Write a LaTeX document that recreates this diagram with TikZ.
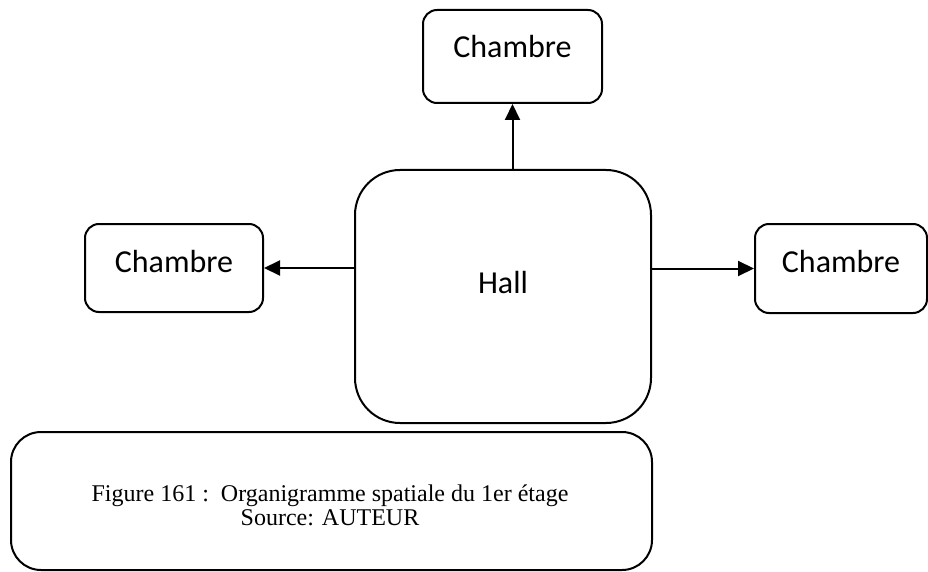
\documentclass[tikz,border=0pt]{standalone}
\usepackage{fontspec}
\setmainfont{Liberation Serif}
\newfontfamily\boitefont{Carlito}
\usetikzlibrary{arrows.meta}

\begin{document}
\begin{tikzpicture}[x=1pt, y=-1pt, line width=2pt,
      boite/.style={draw, rounded corners=14pt, inner sep=0pt, text height=22pt,
        font=\boitefont\fontsize{32}{38}\selectfont},
      fleche/.style={-{Triangle[length=16pt,width=15pt]}}]
      \useasboundingbox (0,0) rectangle (928,572);

      % Hall au centre
      \node[boite, rounded corners=45pt, text depth=29pt, minimum width=296pt,
        minimum height=253pt] (hall) at (503,296.5) {Hall};

      % Les trois chambres
      \node[boite, text depth=19pt, minimum width=179pt, minimum height=93pt] (chHaut) at (512.5,56.5) {Chambre};
      \node[boite, text depth=14pt, minimum width=178pt, minimum height=88pt] (chGauche) at (174,268) {Chambre};
      \node[boite, text depth=14pt, minimum width=172pt, minimum height=89pt] (chDroite) at (841,268.5) {Chambre};

      % Liaisons depuis le hall
      \draw[fleche] (chHaut.south |- hall.north) -- (chHaut.south);
      \draw[fleche] (hall.west |- chGauche.east) -- (chGauche.east);
      \draw[fleche] (hall.east |- chDroite.west) -- (chDroite.west);

      % Legende
      \node[draw, rounded corners=30pt, minimum width=641pt, minimum height=138pt] (legende) at (331.5,501) {};
      \node[align=center, inner sep=0pt, font=\fontsize{24}{24}\selectfont] (legendeTexte) at (330,505.5)
        {Figure 161 :\ \ Organigramme spatiale du 1er étage\\ Source: AUTEUR};
    \end{tikzpicture}
\end{document}
